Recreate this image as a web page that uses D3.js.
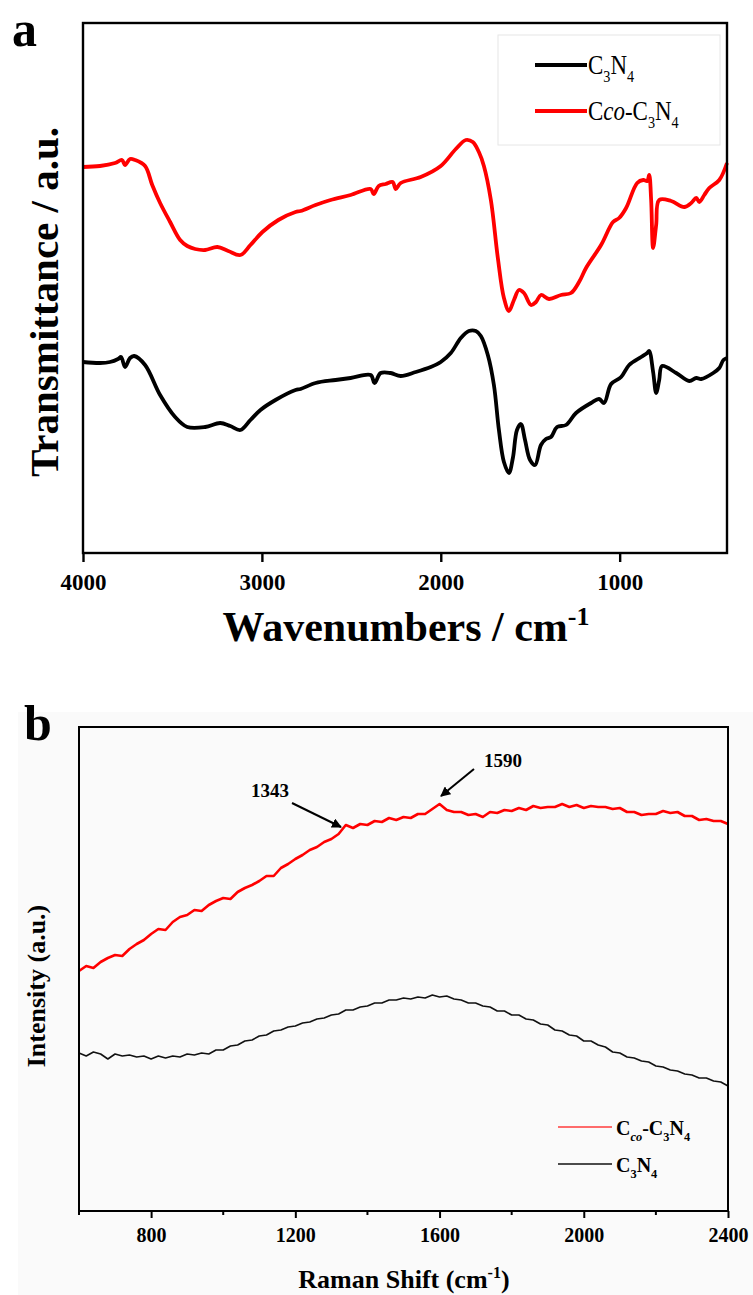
<!DOCTYPE html>
<html>
<head>
<meta charset="utf-8">
<script src="https://cdn.jsdelivr.net/npm/d3@7"></script>
<style>
  html, body { margin: 0; padding: 0; background: #ffffff; }
  svg { display: block; }
  text { font-family: "Liberation Serif", "Times New Roman", serif; }
</style>
</head>
<body>
<svg id="chart" width="753" height="1295"></svg>
<script>
// ---------------- DATA ----------------
// Panel a: FTIR (wavenumber cm^-1, transmittance a.u.)
const irTicks = [4000, 3000, 2000, 1000];
const irCcoX = [4000,3905,3821,3782,3765,3737,3709,3653,3613,3569,3513,3457,3417,3373,3317,3249,3188,3120,3064,2997,2908,2812,2784,2700,2616,2504,2392,2375,2347,2308,2269,2252,2224,2112,2000,1916,1860,1821,1787,1759,1720,1681,1647,1619,1591,1563,1535,1496,1468,1440,1395,1328,1272,1227,1188,1104,1037,1003,964,902,868,846,835,824,813,796,779,712,639,600,572,555,527,499,443,400];
const irCcoY = [386,387,390,393,388,394,393,387,368,350,331,313,307,304,303,306,302,298,308,321,333,341,342,348,353,358,364,359,367,369,371,364,370,376,387,404,413,411,401,387,353,295,255,242,253,263,260,248,251,258,254,258,260,271,285,308,331,335,345,370,373,372,378,353,305,328,353,352,346,350,355,351,358,365,373,390];
const irC3N4X = [4000,3905,3849,3804,3787,3765,3737,3714,3653,3569,3485,3417,3317,3233,3177,3120,3064,3008,2924,2812,2784,2700,2588,2504,2392,2370,2336,2280,2224,2140,2056,2000,1944,1888,1843,1804,1776,1737,1703,1675,1647,1619,1597,1574,1552,1529,1501,1473,1440,1412,1384,1350,1300,1244,1160,1115,1087,1048,992,947,880,846,835,813,796,779,763,684,611,572,544,477,443,420,400];
const irC3N4Y = [191,190,191,194,196,186,195,197,188,158,136,126,126,130,127,123,133,143,153,163,164,170,173,175,178,170,180,180,177,181,186,191,200,215,222,222,217,198,168,123,91,80,95,123,129,113,93,88,108,114,116,126,128,140,150,154,150,169,176,188,196,200,202,181,160,173,187,180,172,175,174,180,185,193,195];

// Panel b: Raman (shift cm^-1, intensity a.u.)
const ramanTicks = [800, 1200, 1600, 2000, 2400];
const ramanShift = [600,620,640,660,680,700,720,740,760,780,800,820,840,860,880,900,920,940,960,980,1000,1020,1040,1060,1080,1100,1120,1140,1160,1180,1200,1220,1240,1260,1280,1300,1320,1340,1360,1380,1400,1420,1440,1460,1480,1500,1520,1540,1560,1580,1600,1620,1640,1660,1680,1700,1720,1740,1760,1780,1800,1820,1840,1860,1880,1900,1920,1940,1960,1980,2000,2020,2040,2060,2080,2100,2120,2140,2160,2180,2200,2220,2240,2260,2280,2300,2320,2340,2360,2380,2400];
const ramanCco = [240,245,243,249,253,256,255,262,267,271,277,282,281,289,294,296,301,300,306,310,313,312,319,323,326,330,335,335,343,347,352,356,361,364,369,372,377,386,383,387,386,390,389,393,391,394,393,397,397,402,407,401,399,399,396,397,394,399,398,401,400,403,401,405,403,404,404,407,404,406,403,405,404,404,402,403,399,399,396,397,397,400,398,399,395,395,391,392,390,390,387];
const ramanC3N4 = [158,155,159,157,152,157,155,156,154,155,152,155,153,155,154,157,156,158,157,161,161,165,166,170,171,175,176,180,181,184,185,188,189,192,193,196,197,201,201,204,205,208,208,211,211,213,212,214,213,216,214,215,212,211,208,208,205,204,200,200,196,196,192,191,187,186,181,180,176,175,170,170,166,164,159,158,154,153,150,149,145,144,141,140,137,136,133,133,130,129,125];
const ramanPeaks = [1343, 1590];

// ---------------- DRAWING ----------------
const svg = d3.select("#chart");

function rich(textSel, parts, size) {
  let shift = 0;
  parts.forEach(p => {
    const ts = textSel.append("tspan").text(p.t);
    let target = 0;
    if (p.sub) target = size * 0.28;
    if (p.sup) target = -size * 0.38;
    ts.attr("dy", target - shift);
    shift = target;
    if (p.sub || p.sup) ts.style("font-size", (size * 0.62) + "px");
    if (p.it) ts.style("font-style", "italic");
  });
}

// ===== Panel a =====
const A = {left: 83, right: 727, top: 23, bottom: 553};
const xA = d3.scaleLinear().domain([4000, 400]).range([A.left, A.right]);
const yA = d3.scaleLinear().domain([0, 530]).range([A.bottom, A.top]);
const lineA = d3.line().x(d => xA(d[0])).y(d => yA(d[1])).curve(d3.curveCatmullRom.alpha(0.5));

const gA = svg.append("g");
gA.append("path")
  .datum(d3.zip(irC3N4X, irC3N4Y))
  .attr("d", lineA)
  .attr("fill", "none").attr("stroke", "#000").attr("stroke-width", 3.8)
  .attr("stroke-linejoin", "round");
gA.append("path")
  .datum(d3.zip(irCcoX, irCcoY))
  .attr("d", lineA)
  .attr("fill", "none").attr("stroke", "#ff0000").attr("stroke-width", 3.8)
  .attr("stroke-linejoin", "round");

gA.append("rect").attr("x", A.left).attr("y", A.top)
  .attr("width", A.right - A.left).attr("height", A.bottom - A.top)
  .attr("fill", "none").attr("stroke", "#000").attr("stroke-width", 2.4);

const axA = gA.append("g").attr("transform", `translate(0,${A.bottom})`)
  .call(d3.axisBottom(xA).tickValues(irTicks).tickSize(9).tickSizeOuter(0).tickPadding(12).tickFormat(d3.format("d")));
axA.select(".domain").remove();
axA.selectAll(".tick line").attr("stroke", "#000").attr("stroke-width", 2.4);
axA.selectAll(".tick text")
  .style("font-family", "'Liberation Serif', serif")
  .style("font-weight", "bold").style("font-size", "23px").attr("fill", "#000");

const tA = gA.append("text").attr("x", 406).attr("y", 641).attr("text-anchor", "middle")
  .style("font-weight", "bold").style("font-size", "42px").attr("fill", "#000");
rich(tA, [{t: "Wavenumbers / cm"}, {t: "-1", sup: true}], 42);

gA.append("text").attr("transform", "translate(58,302) rotate(-90)")
  .attr("text-anchor", "middle").style("font-weight", "bold").style("font-size", "41px")
  .attr("fill", "#000").text("Transmittance / a.u.");

gA.append("text").attr("x", 12).attr("y", 46).style("font-weight", "bold")
  .style("font-size", "50px").attr("fill", "#000").text("a");

// legend a
const legA = gA.append("g");
legA.append("rect").attr("x", 498).attr("y", 35).attr("width", 222).attr("height", 110)
  .attr("fill", "#fff").attr("stroke", "#e6e6e6").attr("stroke-width", 1);
const legAItems = [
  {name: [{t: "C"}, {t: "3", sub: true}, {t: "N"}, {t: "4", sub: true}], color: "#000", y: 65, base: 74},
  {name: [{t: "C"}, {t: "co", it: true}, {t: "-C"}, {t: "3", sub: true}, {t: "N"}, {t: "4", sub: true}], color: "#ff0000", y: 111, base: 120}
];
legAItems.forEach(it => {
  legA.append("line").attr("x1", 535).attr("x2", 587).attr("y1", it.y).attr("y2", it.y)
    .attr("stroke", it.color).attr("stroke-width", 4);
  const t = legA.append("text").attr("transform", `translate(588,${it.base}) scale(0.85,1)`)
    .style("font-size", "27px").attr("fill", "#000");
  rich(t, it.name, 27);
});

// ===== Panel b =====
svg.append("rect").attr("x", 18).attr("y", 712).attr("width", 735).attr("height", 583).attr("fill", "#fafafa");

const B = {left: 79, right: 728, top: 727, bottom: 1211};
const xB = d3.scaleLinear().domain([600, 2400]).range([B.left, B.right]);
const yB = d3.scaleLinear().domain([0, 484]).range([B.bottom, B.top]);
const lineB = d3.line().x(d => xB(d[0])).y(d => yB(d[1]));

const gB = svg.append("g");
gB.append("path").datum(d3.zip(ramanShift, ramanC3N4)).attr("d", lineB)
  .attr("fill", "none").attr("stroke", "#111").attr("stroke-width", 1.6).attr("stroke-linejoin", "round");
gB.append("path").datum(d3.zip(ramanShift, ramanCco)).attr("d", lineB)
  .attr("fill", "none").attr("stroke", "#ff0000").attr("stroke-width", 2.6).attr("stroke-linejoin", "round");

gB.append("rect").attr("x", B.left).attr("y", B.top)
  .attr("width", B.right - B.left).attr("height", B.bottom - B.top)
  .attr("fill", "none").attr("stroke", "#000").attr("stroke-width", 2);

const axB = gB.append("g").attr("transform", `translate(0,${B.bottom})`)
  .call(d3.axisBottom(xB).tickValues(ramanTicks).tickSize(7).tickSizeOuter(0).tickPadding(10).tickFormat(d3.format("d")));
axB.select(".domain").remove();
axB.selectAll(".tick line").attr("stroke", "#000").attr("stroke-width", 2);
axB.selectAll(".tick text")
  .style("font-family", "'Liberation Serif', serif")
  .style("font-weight", "bold").style("font-size", "20px").attr("fill", "#000");
const minorB = d3.range(600, 2401, 200).filter(v => !ramanTicks.includes(v));
gB.append("g").selectAll("line").data(minorB).join("line")
  .attr("x1", d => xB(d)).attr("x2", d => xB(d))
  .attr("y1", B.bottom).attr("y2", B.bottom + 4)
  .attr("stroke", "#000").attr("stroke-width", 2);

const tB = gB.append("text").attr("x", 404).attr("y", 1288).attr("text-anchor", "middle")
  .style("font-weight", "bold").style("font-size", "26px").attr("fill", "#000");
rich(tB, [{t: "Raman Shift (cm"}, {t: "-1", sup: true}, {t: ")"}], 26);

gB.append("text").attr("transform", "translate(45,986) rotate(-90)")
  .attr("text-anchor", "middle").style("font-weight", "bold").style("font-size", "26px")
  .attr("fill", "#000").text("Intensity (a.u.)");

gB.append("text").attr("x", 24).attr("y", 740).style("font-weight", "bold")
  .style("font-size", "50px").attr("fill", "#000").text("b");

// annotations
svg.append("defs").append("marker").attr("id", "arr").attr("viewBox", "0 0 10 10")
  .attr("refX", 9).attr("refY", 5).attr("markerWidth", 5).attr("markerHeight", 5)
  .attr("orient", "auto").append("path").attr("d", "M0,0 L10,5 L0,10 Z").attr("fill", "#000");

const annB = [
  {label: ramanPeaks[0], tx: 270, ty: 797, x1: 292, y1: 803, x2: 341, y2: 827},
  {label: ramanPeaks[1], tx: 503, ty: 767, x1: 474, y1: 769, x2: 441, y2: 796}
];
annB.forEach(a => {
  gB.append("text").attr("x", a.tx).attr("y", a.ty).attr("text-anchor", "middle")
    .style("font-weight", "bold").style("font-size", "19px").attr("fill", "#000").text(a.label);
  gB.append("line").attr("x1", a.x1).attr("y1", a.y1).attr("x2", a.x2).attr("y2", a.y2)
    .attr("stroke", "#000").attr("stroke-width", 2).attr("marker-end", "url(#arr)");
});

// legend b
const legBItems = [
  {name: [{t: "C"}, {t: "co", it: true, sub: true}, {t: "-C"}, {t: "3", sub: true}, {t: "N"}, {t: "4", sub: true}], color: "#ff3b3b", y: 1127, base: 1135, w: 1.6},
  {name: [{t: "C"}, {t: "3", sub: true}, {t: "N"}, {t: "4", sub: true}], color: "#111", y: 1164, base: 1172, w: 1.3}
];
legBItems.forEach(it => {
  gB.append("line").attr("x1", 558).attr("x2", 612).attr("y1", it.y).attr("y2", it.y)
    .attr("stroke", it.color).attr("stroke-width", it.w);
  const t = gB.append("text").attr("x", 616).attr("y", it.base)
    .style("font-weight", "bold").style("font-size", "20px").attr("fill", "#000");
  rich(t, it.name, 20);
});
</script>
</body>
</html>
